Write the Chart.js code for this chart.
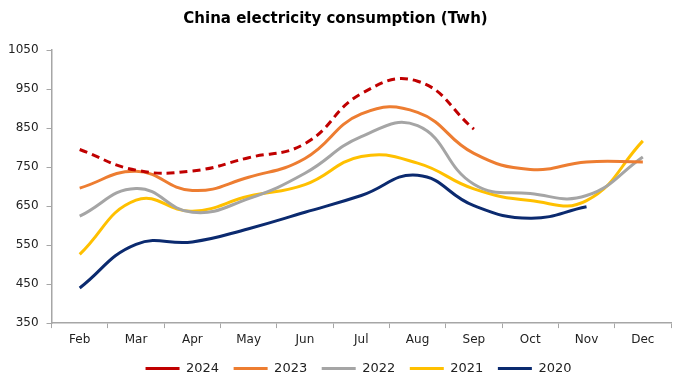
<!DOCTYPE html>
<html>
<head>
<meta charset="utf-8">
<script src="https://cdn.jsdelivr.net/npm/chart.js@4/dist/chart.umd.min.js"></script>
<style>
  html, body { margin: 0; padding: 0; background: #fff; }
  #wrap { width: 673px; height: 376px; }
</style>
</head>
<body>
<div id="wrap"><canvas id="consumptionChart"></canvas></div>
<script>
// Monthly electricity consumption, TWh
const months = ['Feb', 'Mar', 'Apr', 'May', 'Jun', 'Jul', 'Aug', 'Sep', 'Oct', 'Nov', 'Dec'];
const y2024 = [795, 742, 740, 774, 810, 938, 970, 847];
const y2023 = [696, 739, 690, 724, 772, 886, 890, 785, 744, 763, 763];
const y2022 = [624, 695, 634, 669, 734, 828, 856, 706, 682, 677, 776];
const y2021 = [526, 665, 637, 675, 705, 777, 760, 694, 664, 664, 817];
const y2020 = [440, 552, 558, 592, 634, 677, 729, 651, 619, 648];

const yTicks = [350, 450, 550, 650, 750, 850, 950, 1050];

Chart.defaults.font.family = "'DejaVu Sans', Verdana, sans-serif";
Chart.defaults.color = '#222';

const series = [
    { label: '2024', data: y2024, color: '#C00000', dash: [8, 5] },
    { label: '2023', data: y2023, color: '#ED7D31', dash: [] },
    { label: '2022', data: y2022, color: '#A5A5A5', dash: [] },
    { label: '2021', data: y2021, color: '#FFC000', dash: [] },
    { label: '2020', data: y2020, color: '#0B2A6F', dash: [] }
];

// nudge the legend row to sit under the plot area rather than the whole canvas
const legendShift = {
    id: 'legendShift',
    afterLayout(chart) {
        const lg = chart.legend;
        lg.left += 23;
        lg.right += 23;
        lg.top -= 5;
        lg.bottom -= 5;
    }
};

new Chart(document.getElementById('consumptionChart'), {
    type: 'line',
    data: {
        labels: months,
        datasets: series.map(s => ({
            label: s.label,
            data: s.data,
            borderColor: s.color,
            backgroundColor: s.color,
            borderWidth: 3,
            borderDash: s.dash,
            pointRadius: 0,
            tension: 0.45,
            fill: false
        }))
    },
    plugins: [legendShift],
    options: {
        responsive: true,
        maintainAspectRatio: false,
        animation: false,
        layout: { padding: { left: 0, right: 2, top: 2, bottom: -14 } },
        plugins: {
            title: {
                display: true,
                text: 'China electricity consumption (Twh)',
                color: '#000',
                font: { size: 15, weight: 'bold' },
                padding: { top: 8, bottom: 22 }
            },
            legend: {
                position: 'bottom',
                labels: {
                    usePointStyle: true,
                    pointStyle: 'line',
                    pointStyleWidth: 34,
                    boxHeight: 3,
                    padding: 14.5,
                    color: '#222',
                    font: { size: 13 }
                }
            },
            tooltip: { enabled: false }
        },
        scales: {
            x: {
                offset: true,
                border: { color: '#A6A6A6', width: 1.5 },
                grid: { display: true, drawOnChartArea: false, tickLength: 5, color: '#A6A6A6', offset: true },
                ticks: { padding: 5, font: { size: 12 }, color: '#222', maxRotation: 0 }
            },
            y: {
                min: 350,
                max: 1050,
                afterBuildTicks: axis => { axis.ticks = yTicks.map(v => ({ value: v })); },
                border: { color: '#A6A6A6', width: 1.5 },
                grid: { display: true, drawOnChartArea: false, tickLength: 5, color: '#A6A6A6' },
                ticks: { padding: 8, font: { size: 12 }, color: '#222', callback: v => String(v) }
            }
        }
    }
});
</script>
</body>
</html>
